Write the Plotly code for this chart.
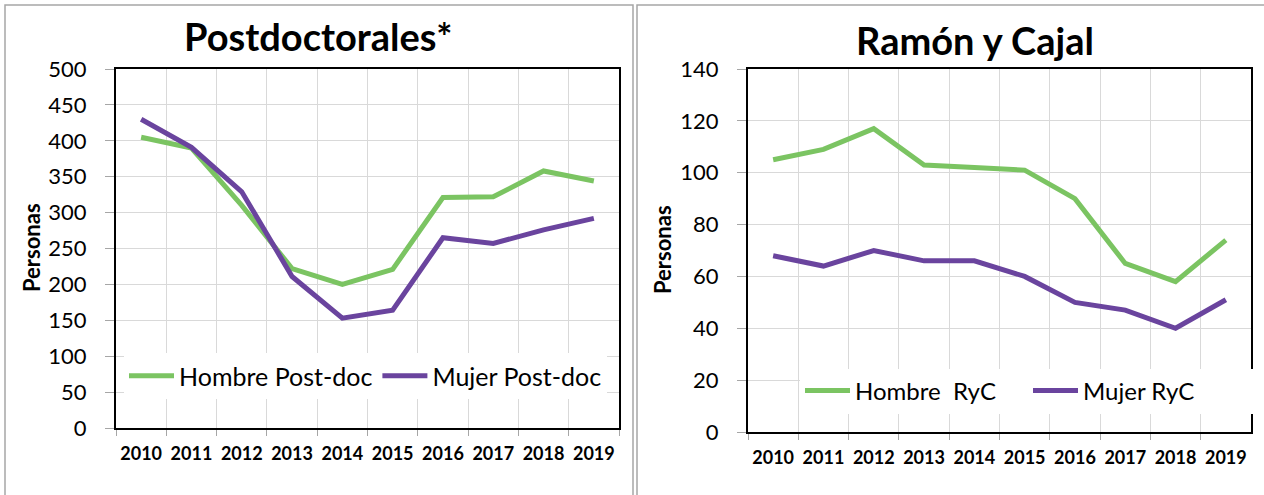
import plotly.graph_objects as go

years = ["2010", "2011", "2012", "2013", "2014", "2015", "2016", "2017", "2018", "2019"]
postdoc_hombre = [405, 390, 310, 222, 200, 221, 321, 322, 358, 344]
postdoc_mujer = [430, 391, 329, 211, 153, 164, 265, 257, 276, 292]
ryc_hombre = [105, 109, 117, 103, 102, 101, 90, 65, 58, 74]
ryc_mujer = [68, 64, 70, 66, 66, 60, 50, 47, 40, 51]

GREEN = "#7bc462"
PURPLE = "#6a449e"
W, H = 1264, 495
FONT = "Lato"

def px(x):
    return x / W

def py(y):
    return 1 - y / H

fig = go.Figure()

fig.add_trace(go.Scatter(x=years, y=postdoc_hombre, name="Hombre Post-doc", mode="lines",
                         line=dict(color=GREEN, width=5), xaxis="x", yaxis="y", legend="legend"))
fig.add_trace(go.Scatter(x=years, y=postdoc_mujer, name="Mujer Post-doc", mode="lines",
                         line=dict(color=PURPLE, width=5), xaxis="x", yaxis="y", legend="legend"))
fig.add_trace(go.Scatter(x=years, y=ryc_hombre, name="Hombre  RyC", mode="lines",
                         line=dict(color=GREEN, width=5), xaxis="x2", yaxis="y2", legend="legend2"))
fig.add_trace(go.Scatter(x=years, y=ryc_mujer, name="Mujer RyC", mode="lines",
                         line=dict(color=PURPLE, width=5), xaxis="x2", yaxis="y2", legend="legend2"))

xcommon = dict(type="category", range=[-0.5, 9.5], tickson="boundaries", showgrid=True,
               gridcolor="#d9d9d9", gridwidth=1, ticks="outside", ticklen=6, tickcolor="#a6a6a6",
               showline=True, linecolor="black", linewidth=2, mirror=True, automargin=False,
               ticklabelstandoff=8, tickangle=0,
               tickfont=dict(family=FONT, size=18, color="black", weight="bold"), fixedrange=True)
ycommon = dict(showgrid=True, gridcolor="#d9d9d9", gridwidth=1, ticks="outside", ticklen=9,
               tickcolor="#a6a6a6", showline=True, linecolor="black", linewidth=2, mirror=True,
               zeroline=False, automargin=False, ticklabelstandoff=14,
               tickfont=dict(family=FONT, size=22, color="black"))

title_font = dict(family=FONT, size=38, color="black", weight="bold")
ytitle_font = dict(family=FONT, size=22, color="black", weight="bold")

fig.update_layout(
    width=W, height=H, margin=dict(l=0, r=0, t=0, b=0),
    paper_bgcolor="white", plot_bgcolor="white",
    xaxis=dict(domain=[px(116), px(619)], anchor="y", **xcommon),
    yaxis=dict(domain=[py(428), py(69)], anchor="x", range=[0, 500], dtick=50, **ycommon),
    xaxis2=dict(domain=[px(748), px(1251)], anchor="y2", **xcommon),
    yaxis2=dict(domain=[py(432), py(69)], anchor="x2", range=[0, 140], dtick=20, **ycommon),
    legend=dict(orientation="h", x=px(124), y=py(376), xanchor="left", yanchor="middle",
                bgcolor="white", font=dict(family=FONT, size=25, color="black"),
                itemwidth=45, tracegroupgap=0),
    legend2=dict(orientation="h", x=px(800), y=py(391), xanchor="left", yanchor="middle",
                 bgcolor="white", font=dict(family=FONT, size=24, color="black"),
                 itemwidth=45, tracegroupgap=0, entrywidth=168),
    showlegend=True,
    annotations=[
        dict(text="Postdoctorales*", x=px(318), y=py(36), xref="paper", yref="paper",
             showarrow=False, xanchor="center", yanchor="middle", font=title_font),
        dict(text="Ramón y Cajal", x=px(975), y=py(40), xref="paper", yref="paper",
             showarrow=False, xanchor="center", yanchor="middle", font=title_font),
        dict(text="Personas", x=px(31), y=py(248), xref="paper", yref="paper", textangle=-90,
             showarrow=False, xanchor="center", yanchor="middle", font=ytitle_font),
        dict(text="Personas", x=px(662), y=py(250), xref="paper", yref="paper", textangle=-90,
             showarrow=False, xanchor="center", yanchor="middle", font=ytitle_font),
    ],
    shapes=[
        dict(type="rect", xref="paper", yref="paper", x0=px(5), x1=px(633), y0=py(500), y1=py(5),
             line=dict(color="#a6a6a6", width=1.5)),
        dict(type="rect", xref="paper", yref="paper", x0=px(637), x1=px(1268), y0=py(500), y1=py(5),
             line=dict(color="#a6a6a6", width=1.5)),
    ],
)

fig.write_html("out.html", config={"displayModeBar": False},
               post_script="document.body.style.margin='0';")
